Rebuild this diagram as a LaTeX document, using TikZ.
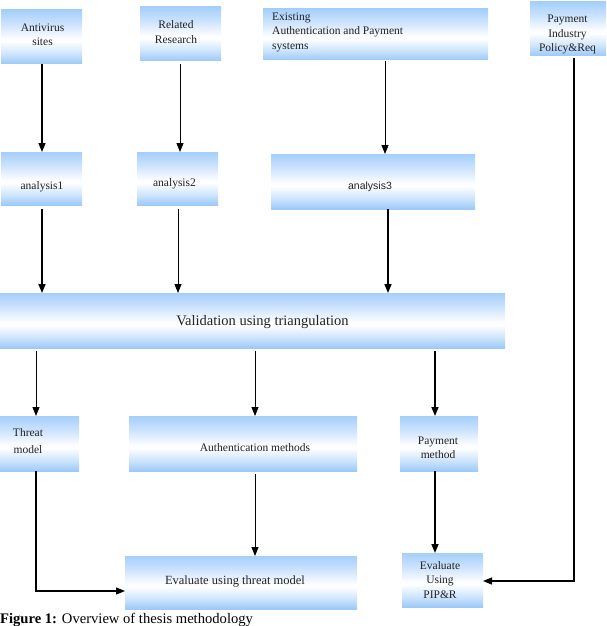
\documentclass[tikz,border=0pt]{standalone}
\usepackage{fontspec}
\setmainfont{Liberation Serif}
\newfontfamily\arialfont{Liberation Sans}
\usetikzlibrary{arrows.meta,calc}

\definecolor{bbot}{HTML}{9CC9F8}
\definecolor{blow}{HTML}{CFE6FD}
\definecolor{bmid}{HTML}{F8FBFF}
\definecolor{bup}{HTML}{CDE3FD}
\definecolor{btop}{HTML}{A5CFFB}
\definecolor{tcol}{HTML}{222222}

% light blue band fill: blue at top and bottom, white just below the middle
\pgfdeclareverticalshading{boxfill}{100bp}{%
  color(0bp)=(bbot); color(25bp)=(bbot); color(35bp)=(blow);
  color(46bp)=(white); color(50bp)=(bmid); color(62bp)=(bup);
  color(75bp)=(btop); color(100bp)=(btop)}

\tikzset{
  box/.style={shade, shading=boxfill, draw=none, inner sep=0pt, outer sep=0pt},
  txt/.style={font=\fontsize{11.5}{14.5}\selectfont, text=tcol, align=center, inner sep=0pt},
  tip/.style={-{Triangle[length=9pt,width=7pt]}},
  thinline/.style={line width=0.8pt},
  thickline/.style={line width=1.6pt},
  midline/.style={line width=1.2pt}
}

\begin{document}
\begin{tikzpicture}[x=1pt,y=-1pt]
\useasboundingbox (0,0) rectangle (606,626);

% source boxes
\node[box, minimum width=81pt, minimum height=54pt] (av) at (41.5,37) {};
\node[box, minimum width=81pt, minimum height=54pt] (rr) at (180.5,34) {};
\node[box, minimum width=225pt, minimum height=51pt] (ex) at (375.5,34.5) {};
\node[box, minimum width=76pt, minimum height=54pt] (pi) at (568,29) {};

% analysis boxes
\node[box, minimum width=81pt, minimum height=53pt] (a1) at (41.5,178.5) {};
\node[box, minimum width=81pt, minimum height=53pt] (a2) at (177.5,178.5) {};
\node[box, minimum width=204pt, minimum height=55pt] (a3) at (373,181.5) {};

% validation
\node[box, minimum width=505pt, minimum height=55pt] (val) at (252.5,320.5) {};

% outcomes
\node[box, minimum width=79pt, minimum height=55pt] (tm) at (39.5,443.5) {};
\node[box, minimum width=228pt, minimum height=55pt] (am) at (243,443.5) {};
\node[box, minimum width=78pt, minimum height=55pt] (pm) at (439,443.5) {};

% evaluations
\node[box, minimum width=232pt, minimum height=53pt] (ev) at (241,582.5) {};
\node[box, minimum width=81pt, minimum height=54pt] (pip) at (442.5,580) {};

% labels
\node[txt] (avt) at (42.5,34.5) {Antivirus\\sites};
\node[txt] (rrt) at (176,32) {Related\\Research};
\node[txt, anchor=west, align=left] (ext) at (272,32) {Existing\\Authentication and Payment\\systems};
\node[txt] (pit) at (567.5,34.5) {Payment\\Industry\\Policy\&Req};
\node[txt] (a1t) at (42,187) {analysis1};
\node[txt] (a2t) at (174.5,184) {analysis2};
\node[txt, font=\arialfont\fontsize{10.5}{13}\selectfont] (a3t) at (370,186.5) {analysis3};
\node[txt, font=\fontsize{14.5}{17}\selectfont] (valt) at (262.5,322) {Validation using triangulation};
\node[txt, font=\fontsize{11.5}{17}\selectfont] (tmt) at (28,441.5) {Threat\\model};
\node[txt] (amt) at (255,448) {Authentication methods};
\node[txt, font=\fontsize{11.5}{13.7}\selectfont] (pmt) at (438,447.5) {Payment\\method};
\node[txt, font=\fontsize{12.5}{15}\selectfont] (evt) at (235,581.7) {Evaluate using threat model};
\node[txt] (pipt) at (440,580) {Evaluate\\Using\\PIP\&R};

% caption
\node[anchor=base west, inner sep=0pt, font=\fontsize{14.6}{17}\selectfont] (cap) at (0,623.5)
  {\textbf{Figure 1:} Overview of thesis methodology};

% connector columns
\coordinate (c1) at (42,0);
\coordinate (c2) at (180,0);
\coordinate (c3) at (385,0);
\coordinate (c4) at (178,0);
\coordinate (c5) at (388,0);
\coordinate (c6) at (36,0);
\coordinate (c7) at (255,0);
\coordinate (c8) at (435,0);
\coordinate (tmbend) at (36,591);
\coordinate (pibend) at (574,581);

% sources to analyses
\draw[tip, thickline] (av.south -| c1) -- (a1.north -| c1);
\draw[tip, thinline, shorten <=3pt] (rr.south -| c2) -- (a2.north -| c2);
\draw[tip, thinline, shorten <=1pt] (ex.south -| c3) -- (a3.north -| c3);

% analyses to validation
\draw[tip, thickline, shorten <=4pt] (a1.south -| c1) -- (val.north -| c1);
\draw[tip, thinline, shorten <=4pt] (a2.south -| c4) -- (val.north -| c4);
\draw[tip, thickline] (a3.south -| c5) -- (val.north -| c5);

% validation to outcomes
\draw[tip, thinline, shorten <=3pt] (val.south -| c6) -- (tm.north -| c6);
\draw[tip, thinline, shorten <=3pt] (val.south -| c7) -- (am.north -| c7);
\draw[tip, thickline, shorten <=3pt] (val.south -| c8) -- (pm.north -| c8);

% outcomes to evaluations
\draw[tip, midline] (tm.south -| tmbend) -- (tmbend) -- (ev.west |- tmbend);
\draw[tip, thinline, shorten <=3pt] (am.south -| c7) -- (ev.north -| c7);
\draw[tip, thickline] (pm.south -| c8) -- (pip.north -| c8);
\draw[tip, midline, shorten <=2pt] (pi.south -| pibend) -- (pibend) -- (pip.east |- pibend);
\end{tikzpicture}
\end{document}
